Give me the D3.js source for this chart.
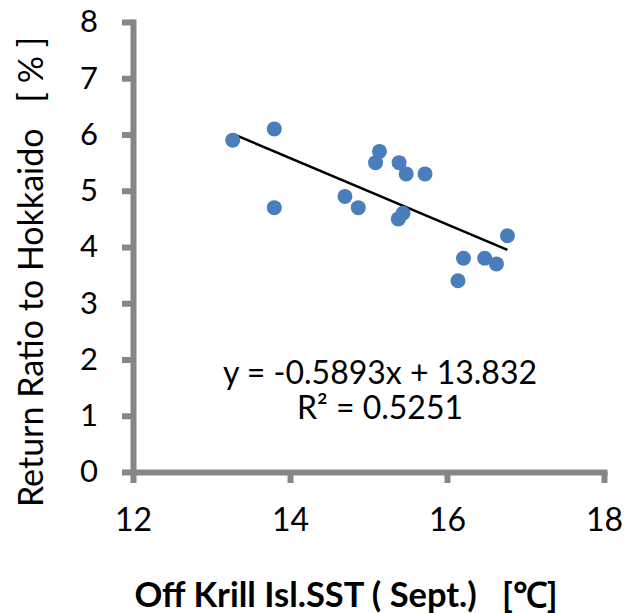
<!DOCTYPE html>
<html>
<head>
<meta charset="utf-8">
<title>Return Ratio vs SST</title>
<style>
body { margin: 0; background: #fff; }
#chart { width: 628px; height: 613px; display: block; }
text { font-family: Lato, "Open Sans", sans-serif; fill: #000; }
</style>
</head>
<body>
<svg id="chart" width="628" height="613"></svg>
<script src="https://d3js.org/d3.v7.min.js"></script>
<script>
// data
const sst = [13.27, 13.8, 13.8, 14.7, 14.87, 15.14, 15.09, 15.39, 15.48, 15.72, 15.44, 15.38, 16.77, 16.21, 16.48, 16.63, 16.14];
const ratio = [5.9, 6.1, 4.7, 4.9, 4.7, 5.7, 5.5, 5.5, 5.3, 5.3, 4.6, 4.5, 4.2, 3.8, 3.8, 3.7, 3.4];
const xTicks = [12, 14, 16, 18];
const yTicks = [0, 1, 2, 3, 4, 5, 6, 7, 8];
const slope = -0.5893, intercept = 13.832;
const eqLabels = ["y = -0.5893x + 13.832", "R\u00b2 = 0.5251"];

const svg = d3.select("#chart");

const x = d3.scaleLinear().domain([12, 18]).range([133, 604]);
const y = d3.scaleLinear().domain([0, 8]).range([472, 22]);

function styleAxis(g) {
  g.selectAll("path, line")
    .attr("stroke", "#868686")
    .attr("stroke-width", 6);
  g.select("path").attr("stroke-linecap", "square");
}

// axes
svg.append("g")
  .attr("transform", "translate(0,472)")
  .call(d3.axisBottom(x).tickValues(xTicks).tickFormat(d3.format("d"))
    .tickSize(11).tickSizeOuter(0).tickPadding(25))
  .call(styleAxis)
  .call(g => g.selectAll("text").attr("font-size", 32).attr("font-family", null));

svg.append("g")
  .attr("transform", "translate(133,0)")
  .call(d3.axisLeft(y).tickValues(yTicks).tickFormat(d3.format("d"))
    .tickSize(11).tickSizeOuter(0).tickPadding(24))
  .call(styleAxis)
  .call(g => g.selectAll("text").attr("font-size", 31).attr("font-family", null));

// trend line
const xs = d3.extent(sst);
svg.append("line")
  .attr("x1", x(xs[0])).attr("y1", y(slope * xs[0] + intercept))
  .attr("x2", x(xs[1])).attr("y2", y(slope * xs[1] + intercept))
  .attr("stroke", "#000")
  .attr("stroke-width", 2.5);

// points
svg.append("g")
  .selectAll("circle")
  .data(sst)
  .join("circle")
  .attr("cx", d => x(d))
  .attr("cy", (d, i) => y(ratio[i]))
  .attr("r", 7.5)
  .attr("fill", "#4a7ebb");

// equation label
svg.append("g")
  .selectAll("text")
  .data(eqLabels)
  .join("text")
  .attr("x", 380)
  .attr("y", (d, i) => 384 + i * 35)
  .attr("text-anchor", "middle")
  .attr("font-size", 32)
  .text(d => d);

// axis titles
svg.append("text")
  .attr("transform", "translate(43,272) rotate(-90)")
  .attr("text-anchor", "middle")
  .attr("font-size", 34)
  .style("white-space", "pre")
  .text("Return Ratio to Hokkaido   [ % ]");

svg.append("text")
  .attr("x", 346)
  .attr("y", 607)
  .attr("text-anchor", "middle")
  .attr("font-size", 34.5)
  .attr("font-weight", "bold")
  .style("white-space", "pre")
  .text("Off Krill Isl.SST ( Sept.)   [\u2103]");
</script>
</body>
</html>
